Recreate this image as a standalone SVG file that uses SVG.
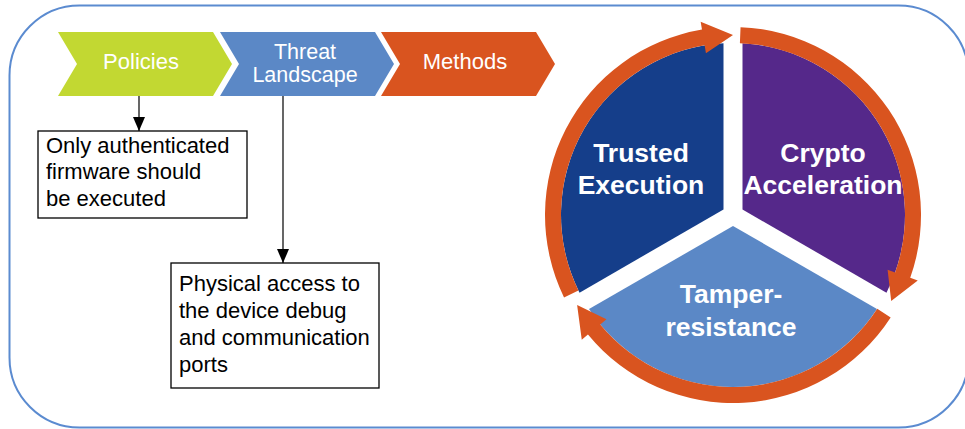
<svg xmlns="http://www.w3.org/2000/svg" width="965" height="429" viewBox="0 0 965 429">
<defs>
<style>
.frame{fill:none;stroke:#5b8bd0;stroke-width:2}
.chev-text{font-family:"Liberation Sans",Arial,sans-serif;font-size:22px;fill:#ffffff;text-anchor:middle}
.chev-text2{font-family:"Liberation Sans",Arial,sans-serif;font-size:21.5px;fill:#ffffff;text-anchor:middle}
.box{fill:#ffffff;stroke:#000000;stroke-width:1.3}
.box-text{font-family:"Liberation Sans",Arial,sans-serif;font-size:22px;fill:#000000}
.pie-text{font-family:"Liberation Sans",Arial,sans-serif;font-size:26.5px;font-weight:bold;fill:#ffffff;text-anchor:middle}
.conn{stroke:#000000;stroke-width:1.2;fill:none}
.ring{fill:#d9541f}
</style>
<marker id="arr" viewBox="0 0 14 12" refX="14" refY="6" markerWidth="14" markerHeight="12" markerUnits="userSpaceOnUse" orient="auto">
<path d="M0,0 L14,6 L0,12 Z" fill="#000000"/>
</marker>
</defs>
<rect class="frame" x="9.5" y="5.5" width="959" height="422" rx="70" ry="70"/>
<g id="policies">
<polygon points="58,32 213,32 232,64 213,96 58,96 77,64" fill="#c2d832"/>
<text class="chev-text" x="141" y="69">Policies</text>
</g>
<g id="threat-landscape">
<polygon points="220,32 375,32 394,64 375,96 220,96 239,64" fill="#5b88c6"/>
<text class="chev-text2" x="305" y="59">Threat</text>
<text class="chev-text2" x="305" y="82">Landscape</text>
</g>
<g id="methods">
<polygon points="381,32 536,32 555,64 536,96 381,96 400,64" fill="#d9541f"/>
<text class="chev-text" x="465" y="69">Methods</text>
</g>
<g id="policy-box">
<rect class="box" x="38" y="131" width="209" height="87"/>
<text class="box-text" x="46" y="152.5">Only authenticated</text>
<text class="box-text" x="46" y="179">firmware should</text>
<text class="box-text" x="46" y="205.5">be executed</text>
</g>
<g id="threat-box">
<rect class="box" x="171" y="263" width="208" height="125"/>
<text class="box-text" x="179" y="291">Physical access to</text>
<text class="box-text" x="179" y="318">the device debug</text>
<text class="box-text" x="179" y="345">and communication</text>
<text class="box-text" x="179" y="372">ports</text>
</g>
<g id="connectors">
<line class="conn" x1="139" y1="96" x2="139" y2="131" marker-end="url(#arr)"/>
<line class="conn" x1="283" y1="96" x2="283" y2="263" marker-end="url(#arr)"/>
</g>
<g id="trusted-execution">
<path d="M723.5,209.5 L723.5,43.26 A172,172 0 0 0 579.52,292.64 Z" fill="#153e8a"/>
<text class="pie-text" x="641" y="162">Trusted</text>
<text class="pie-text" x="641" y="194">Execution</text>
</g>
<g id="crypto-acceleration">
<path d="M742.5,209.5 L742.5,43.26 A172,172 0 0 1 886.48,292.64 Z" fill="#55288a"/>
<text class="pie-text" x="823" y="162">Crypto</text>
<text class="pie-text" x="823" y="194">Acceleration</text>
</g>
<g id="tamper-resistance">
<path d="M733,225.97 L876.98,309.1 A172,172 0 0 1 589.02,309.1 Z" fill="#5b88c6"/>
<text class="pie-text" x="731" y="303">Tamper-</text>
<text class="pie-text" x="731" y="336">resistance</text>
</g>
<g id="cycle-arrows">
<path class="ring" d="M564.03,297.41 A188,188 0 0 1 701.97,29.58 L700.65,21.69 L733,35 L705.93,53.25 L704.61,45.36 A172,172 0 0 0 578.41,290.40 Z"/>
<path class="ring" d="M740.55,27.15 A188,188 0 0 1 910.22,277.76 L917.76,280.43 L891.19,300.89 L887.59,269.74 L895.13,272.42 A172,172 0 0 0 739.90,43.14 Z"/>
<path class="ring" d="M890.67,317.39 A188,188 0 0 1 587.94,334.58 L581.76,339.67 L577.12,305 L606.45,319.32 L600.28,324.41 A172,172 0 0 0 877.25,308.68 Z"/>
</g>
</svg>
